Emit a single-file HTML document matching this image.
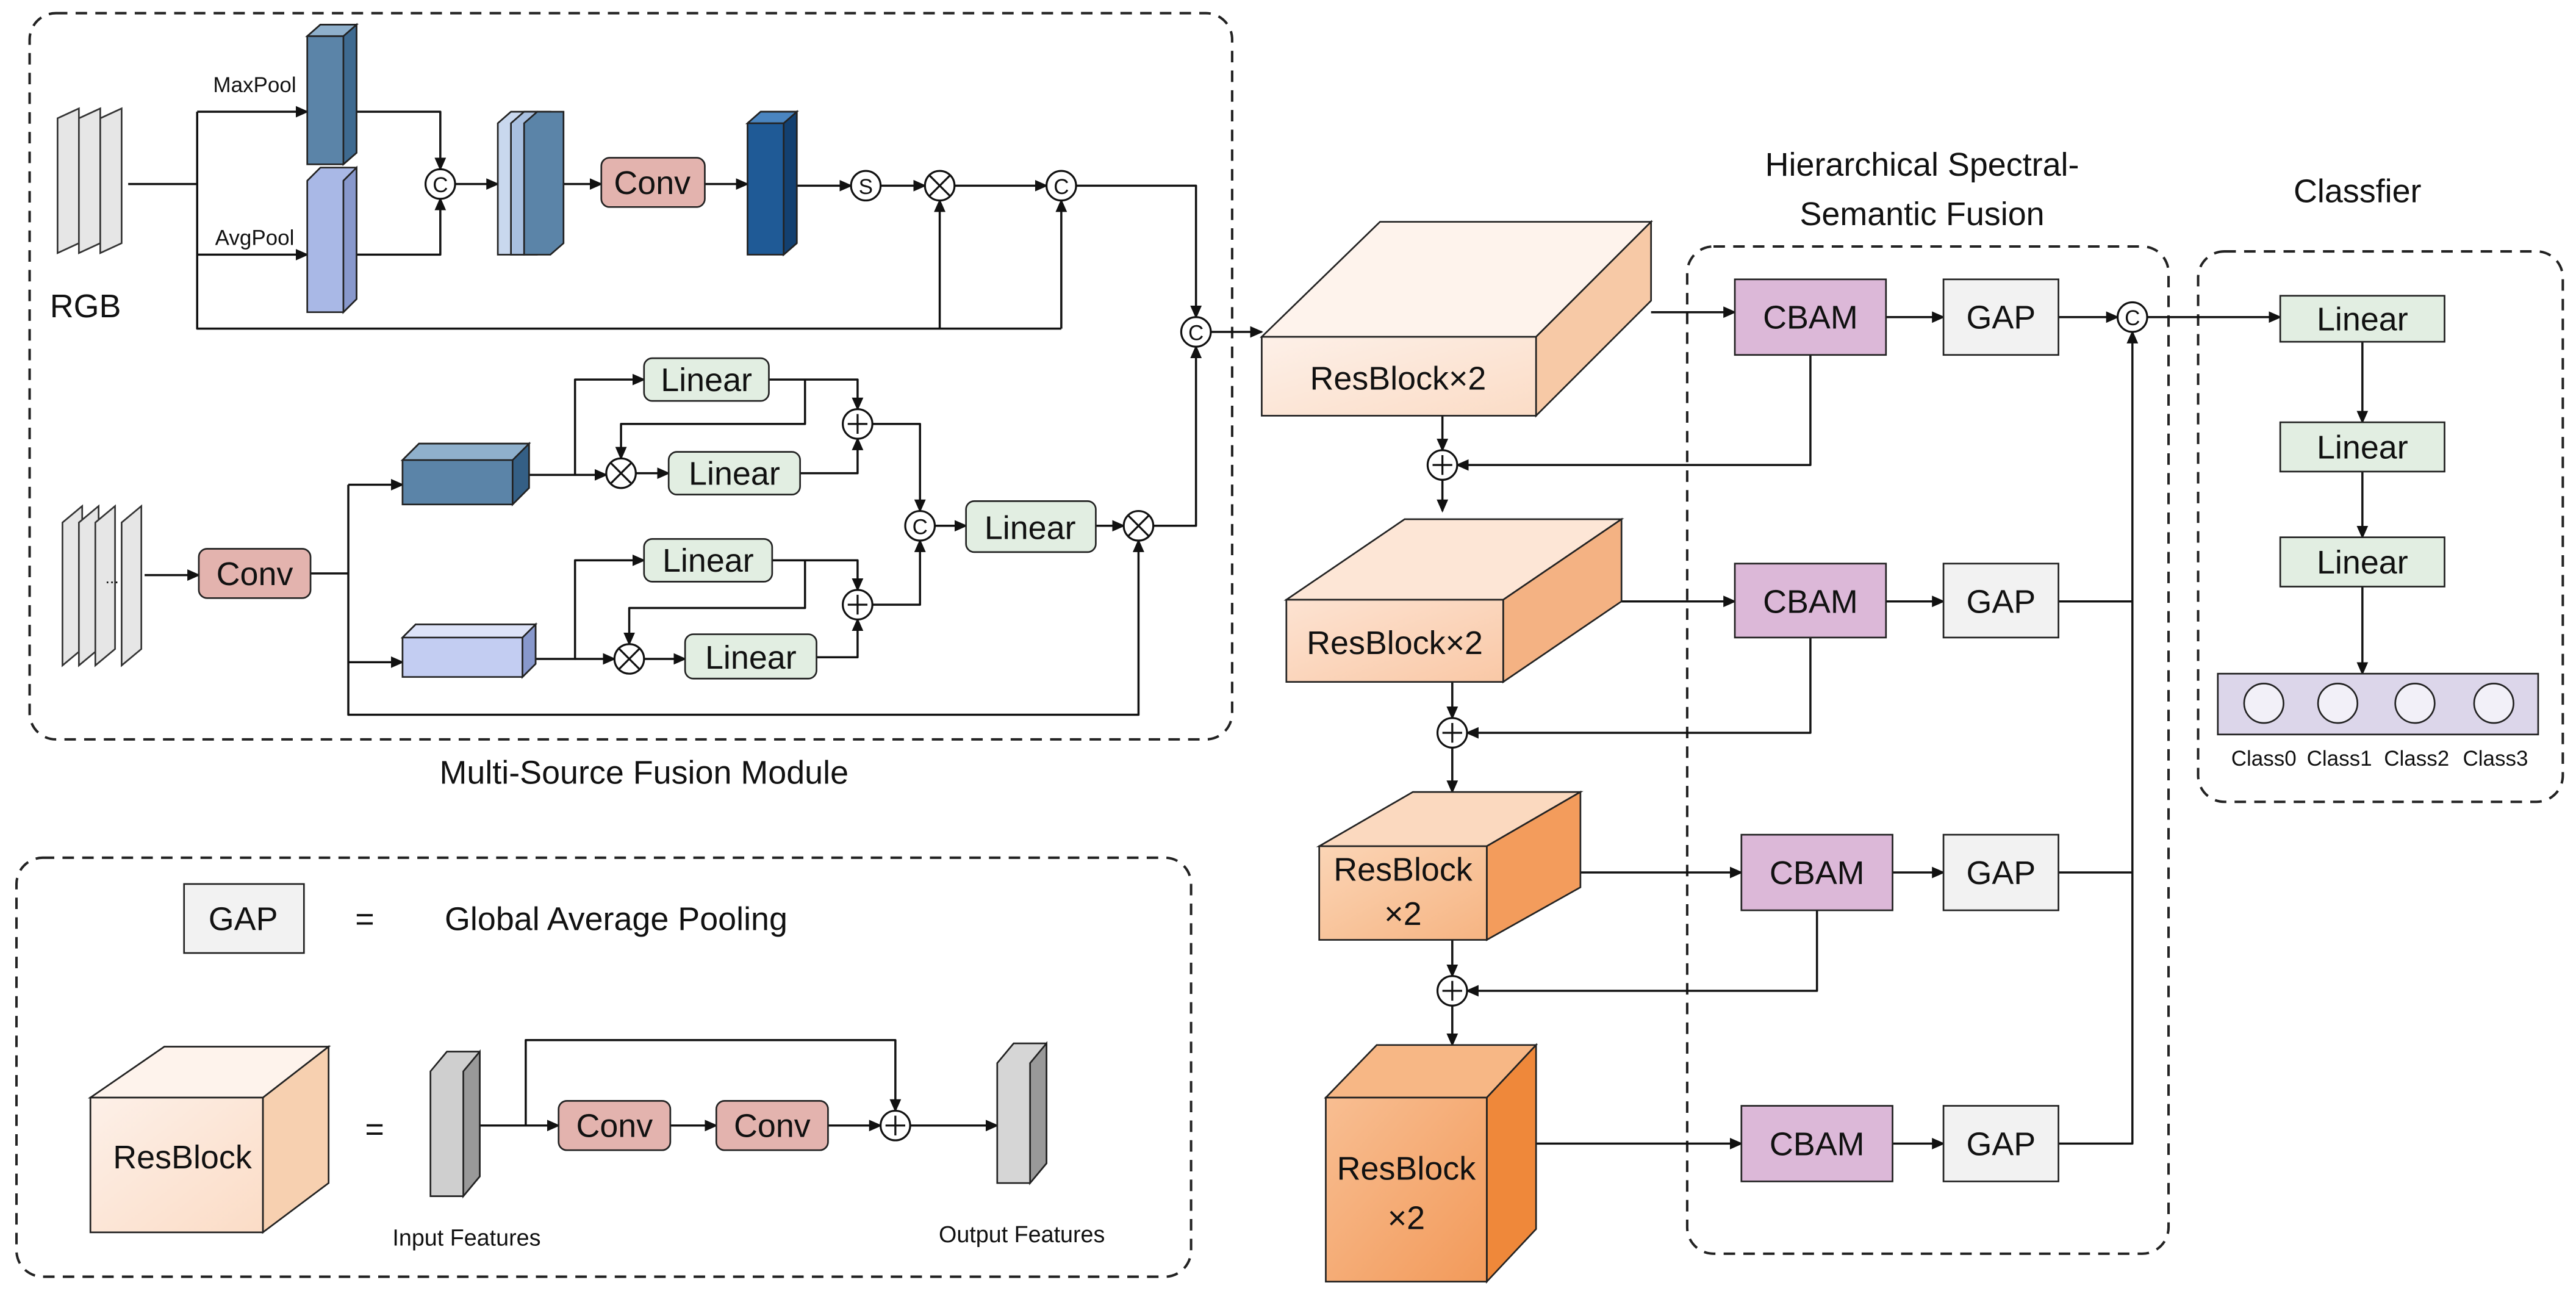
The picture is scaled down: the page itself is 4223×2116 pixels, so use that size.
<!DOCTYPE html>
<html><head><meta charset="utf-8"><style>html,body{margin:0;padding:0;background:#fff}svg{display:block}text{font-family:"Liberation Sans",sans-serif;fill:#111}</style></head>
<body>
<svg width="4223" height="2116" viewBox="0 0 1568 785.7" xmlns="http://www.w3.org/2000/svg">
<defs>
<marker id="a" markerWidth="8" markerHeight="8" refX="7" refY="4" orient="auto" markerUnits="userSpaceOnUse"><path d="M0,0.5 L8,4 L0,7.5z" fill="#111"/></marker>
<linearGradient id="g1" x1="0" y1="0" x2="1" y2="1"><stop offset="0" stop-color="#fdf0e8"/><stop offset="1" stop-color="#fbdcc6"/></linearGradient>
<linearGradient id="g2" x1="0" y1="0" x2="1" y2="1"><stop offset="0" stop-color="#fde3d2"/><stop offset="1" stop-color="#f9c8a6"/></linearGradient>
<linearGradient id="g3" x1="0" y1="0" x2="1" y2="1"><stop offset="0" stop-color="#fbd5b6"/><stop offset="1" stop-color="#f6b482"/></linearGradient>
<linearGradient id="g4" x1="0" y1="0" x2="1" y2="1"><stop offset="0" stop-color="#f8be92"/><stop offset="1" stop-color="#f29a5a"/></linearGradient>
</defs>
<g fill="none" stroke="#222" stroke-width="1.5" stroke-dasharray="7,5">
<rect x="18" y="8" width="732" height="442" rx="16"/>
<rect x="10" y="522" width="715" height="255" rx="16"/>
<rect x="1027" y="150" width="293" height="613" rx="16"/>
<rect x="1338" y="153" width="222" height="335" rx="16"/>
</g>
<g font-size="20" text-anchor="middle">
<text x="392" y="477">Multi-Source Fusion Module</text>
<text x="1170" y="107">Hierarchical Spectral-</text>
<text x="1170" y="137">Semantic Fusion</text>
<text x="1435" y="123">Classfier</text>
<text x="52" y="193">RGB</text>
</g>
<g stroke="#333" stroke-width="1" fill="#e6e6e6">
<polygon points="35,72 48,66 48,148 35,154"/>
<polygon points="48,72 61,66 61,148 48,154"/>
<polygon points="61,72 74,66 74,148 61,154"/>
<polygon points="38,318 50,308 50,395 38,405"/>
<polygon points="48,318 60,308 60,395 48,405"/>
<polygon points="58,318 70,308 70,395 58,405"/>
<polygon points="74,318 86,308 86,395 74,405"/>
</g>
<text x="64" y="355" font-size="10">...</text>
<g fill="none" stroke="#111" stroke-width="1.3" stroke-linejoin="round">
<path d="M78,112 H120 M120,68 V200 H646"/>
<path d="M120,68 H187" marker-end="url(#a)"/>
<path d="M120,155 H187" marker-end="url(#a)"/>
<path d="M217,68 H268 V103" marker-end="url(#a)"/>
<path d="M217,155 H268 V121" marker-end="url(#a)"/>
<path d="M277,112 H303" marker-end="url(#a)"/>
<path d="M343,112 H366" marker-end="url(#a)"/>
<path d="M429,112 H455" marker-end="url(#a)"/>
<path d="M485,113 H518" marker-end="url(#a)"/>
<path d="M536,113 H563" marker-end="url(#a)"/>
<path d="M581,113 H637" marker-end="url(#a)"/>
<path d="M572,200 V122" marker-end="url(#a)"/>
<path d="M646,200 V122" marker-end="url(#a)"/>
<path d="M655,113 H728 V193" marker-end="url(#a)"/>
<path d="M737,202 H768" marker-end="url(#a)"/>
<path d="M88,350 H121" marker-end="url(#a)"/>
<path d="M189,349 H212 M212,295 V435 H693 V329" marker-end="url(#a)"/>
<path d="M212,295 H245" marker-end="url(#a)"/>
<path d="M212,403 H245" marker-end="url(#a)"/>
<path d="M322,289 H350 V231 H392" marker-end="url(#a)"/>
<path d="M350,289 H369" marker-end="url(#a)"/>
<path d="M387,288 H407" marker-end="url(#a)"/>
<path d="M468,231 H522 V249" marker-end="url(#a)"/>
<path d="M490,231 V258 H378 V279" marker-end="url(#a)"/>
<path d="M487,288 H522 V267" marker-end="url(#a)"/>
<path d="M326,401 H350 V341 H392" marker-end="url(#a)"/>
<path d="M350,401 H374" marker-end="url(#a)"/>
<path d="M392,401 H417" marker-end="url(#a)"/>
<path d="M470,341 H522 V359" marker-end="url(#a)"/>
<path d="M490,341 V370 H383 V392" marker-end="url(#a)"/>
<path d="M497,400 H522 V377" marker-end="url(#a)"/>
<path d="M531,258 H560 V311" marker-end="url(#a)"/>
<path d="M531,368 H560 V329" marker-end="url(#a)"/>
<path d="M569,320 H588" marker-end="url(#a)"/>
<path d="M667,320 H684" marker-end="url(#a)"/>
<path d="M702,320 H728 V211" marker-end="url(#a)"/>
<path d="M1005,190 H1056" marker-end="url(#a)"/>
<path d="M1148,193 H1183" marker-end="url(#a)"/>
<path d="M1253,193 H1289" marker-end="url(#a)"/>
<path d="M1307,193 H1388" marker-end="url(#a)"/>
<path d="M1102,216 V283 H887" marker-end="url(#a)"/>
<path d="M878,253 V274" marker-end="url(#a)"/>
<path d="M878,292 V311" marker-end="url(#a)"/>
<path d="M987,366 H1056" marker-end="url(#a)"/>
<path d="M1148,366 H1183" marker-end="url(#a)"/>
<path d="M1253,366 H1298"/>
<path d="M1102,388 V446 H893" marker-end="url(#a)"/>
<path d="M884,415 V437" marker-end="url(#a)"/>
<path d="M884,455 V482" marker-end="url(#a)"/>
<path d="M962,531 H1060" marker-end="url(#a)"/>
<path d="M1152,531 H1183" marker-end="url(#a)"/>
<path d="M1253,531 H1298"/>
<path d="M1106,554 V603 H893" marker-end="url(#a)"/>
<path d="M884,572 V594" marker-end="url(#a)"/>
<path d="M884,612 V636" marker-end="url(#a)"/>
<path d="M935,696 H1060" marker-end="url(#a)"/>
<path d="M1152,696 H1183" marker-end="url(#a)"/>
<path d="M1253,696 H1298 V202" marker-end="url(#a)"/>
<path d="M1438,208 V257" marker-end="url(#a)"/>
<path d="M1438,287 V327" marker-end="url(#a)"/>
<path d="M1438,357 V410" marker-end="url(#a)"/>
<path d="M292,685 H340" marker-end="url(#a)"/>
<path d="M408,685 H436" marker-end="url(#a)"/>
<path d="M504,685 H536" marker-end="url(#a)"/>
<path d="M554,685 H607" marker-end="url(#a)"/>
<path d="M320,685 V633 H545 V676" marker-end="url(#a)"/>
</g>
<g stroke="#222" stroke-width="1">
<polygon points="187,22 195,15 217,15 217,93 209,100 187,100" fill="#5b84a8"/><polygon points="209,22 217,15 217,93 209,100" fill="#3e6a90"/><polygon points="187,22 195,15 217,15 209,22" fill="#8fb0cc"/>
<polygon points="187,110 195,102 217,102 217,182 209,190 187,190" fill="#a9b8e6"/><polygon points="209,110 217,102 217,182 209,190" fill="#8898cc"/>
<polygon points="303,75 311,68 327,68 327,148 319,155 303,155" fill="#c9d8ee"/>
<polygon points="311,75 319,68 335,68 335,148 327,155 311,155" fill="#a9c0e0"/>
<polygon points="319,75 327,68 343,68 343,148 335,155 319,155" fill="#5b84a8"/>
<polygon points="455,75 463,68 485,68 485,148 477,155 455,155" fill="#1f5a96"/><polygon points="477,75 485,68 485,148 477,155" fill="#134070"/><polygon points="455,75 463,68 485,68 477,75" fill="#4a85c0"/>
<polygon points="245,280 255,270 322,270 322,297 312,307 245,307" fill="#5b84a8"/><polygon points="312,280 322,270 322,297 312,307" fill="#345f85"/><polygon points="245,280 255,270 322,270 312,280" fill="#8fb0cc"/>
<polygon points="245,388 253,380 326,380 326,404 318,412 245,412" fill="#c3cdf2"/><polygon points="318,388 326,380 326,404 318,412" fill="#8898cc"/><polygon points="245,388 253,380 326,380 318,388" fill="#dde3f8"/>
<polygon points="262,652 272,640 292,640 292,716 282,728 262,728" fill="#cfcfcf"/><polygon points="282,652 292,640 292,716 282,728" fill="#999"/>
<polygon points="607,647 617,635 637,635 637,708 627,720 607,720" fill="#d6d6d6"/><polygon points="627,647 637,635 637,708 627,720" fill="#999"/>
</g>
<g stroke="#222" stroke-width="1">
<polygon points="768,205 840,135 1005,135 935,205" fill="#fef3ec"/><polygon points="935,205 1005,135 1005,183 935,253" fill="#f7c9a6"/><rect x="768" y="205" width="167" height="48" fill="url(#g1)"/>
<polygon points="783,365 855,316 987,316 915,365" fill="#fde6d6"/><polygon points="915,365 987,316 987,366 915,415" fill="#f4b283"/><rect x="783" y="365" width="132" height="50" fill="url(#g2)"/>
<polygon points="803,515 860,482 962,482 905,515" fill="#fbd9bf"/><polygon points="905,515 962,482 962,540 905,572" fill="#f39c5c"/><rect x="803" y="515" width="102" height="57" fill="url(#g3)"/>
<polygon points="807,668 838,636 935,636 905,668" fill="#f7b785"/><polygon points="905,668 935,636 935,748 905,780" fill="#ef883a"/><rect x="807" y="668" width="98" height="112" fill="url(#g4)"/>
<polygon points="55,668 100,637 200,637 160,668" fill="#fef3ec"/><polygon points="160,668 200,637 200,720 160,750" fill="#f7d0b0"/><rect x="55" y="668" width="105" height="82" fill="url(#g1)"/>
</g>
<g font-size="20" text-anchor="middle">
<text x="851" y="237">ResBlock×2</text>
<text x="849" y="398">ResBlock×2</text>
<text x="854" y="536">ResBlock</text><text x="854" y="563">×2</text>
<text x="856" y="718">ResBlock</text><text x="856" y="748">×2</text>
<text x="111" y="711">ResBlock</text>
</g>
<g stroke="#222" stroke-width="1">
<rect x="366" y="96" width="63" height="30" rx="5" fill="#e3b3ae"/>
<rect x="121" y="334" width="68" height="30" rx="5" fill="#e3b3ae"/>
<rect x="340" y="670" width="68" height="30" rx="5" fill="#e3b3ae"/>
<rect x="436" y="670" width="68" height="30" rx="5" fill="#e3b3ae"/>
<rect x="392" y="218" width="76" height="26" rx="5" fill="#e2eee2"/>
<rect x="407" y="275" width="80" height="26" rx="5" fill="#e2eee2"/>
<rect x="392" y="328" width="78" height="26" rx="5" fill="#e2eee2"/>
<rect x="417" y="386" width="80" height="27" rx="5" fill="#e2eee2"/>
<rect x="588" y="305" width="79" height="31" rx="5" fill="#e2eee2"/>
<rect x="1388" y="180" width="100" height="28" fill="#e2eee2"/>
<rect x="1388" y="257" width="100" height="30" fill="#e2eee2"/>
<rect x="1388" y="327" width="100" height="30" fill="#e2eee2"/>
<rect x="1056" y="170" width="92" height="46" fill="#dcb8d8"/>
<rect x="1056" y="343" width="92" height="45" fill="#dcb8d8"/>
<rect x="1060" y="508" width="92" height="46" fill="#dcb8d8"/>
<rect x="1060" y="673" width="92" height="46" fill="#dcb8d8"/>
<rect x="1183" y="170" width="70" height="46" fill="#f2f2f2"/>
<rect x="1183" y="343" width="70" height="45" fill="#f2f2f2"/>
<rect x="1183" y="508" width="70" height="46" fill="#f2f2f2"/>
<rect x="1183" y="673" width="70" height="46" fill="#f2f2f2"/>
<rect x="112" y="538" width="73" height="42" fill="#f2f2f2"/>
<rect x="1350" y="410" width="195" height="37" fill="#dcd6ea"/>
<circle cx="1378" cy="428" r="12" fill="#f2f0f8"/><circle cx="1423" cy="428" r="12" fill="#f2f0f8"/><circle cx="1470" cy="428" r="12" fill="#f2f0f8"/><circle cx="1518" cy="428" r="12" fill="#f2f0f8"/>
</g>
<g font-size="20" text-anchor="middle">
<text x="397" y="118">Conv</text><text x="155" y="356">Conv</text><text x="374" y="692">Conv</text><text x="470" y="692">Conv</text>
<text x="430" y="238">Linear</text><text x="447" y="295">Linear</text><text x="431" y="348">Linear</text><text x="457" y="407">Linear</text><text x="627" y="328">Linear</text>
<text x="1438" y="201">Linear</text><text x="1438" y="279">Linear</text><text x="1438" y="349">Linear</text>
<text x="1102" y="200">CBAM</text><text x="1102" y="373">CBAM</text><text x="1106" y="538">CBAM</text><text x="1106" y="703">CBAM</text>
<text x="1218" y="200">GAP</text><text x="1218" y="373">GAP</text><text x="1218" y="538">GAP</text><text x="1218" y="703">GAP</text>
<text x="148" y="566">GAP</text>
<text x="222" y="566">=</text><text x="228" y="694">=</text>
<text x="375" y="566">Global Average Pooling</text>
</g>
<g font-size="13" text-anchor="middle">
<text x="155" y="56">MaxPool</text><text x="155" y="149">AvgPool</text>
<text x="1378" y="466">Class0</text><text x="1424" y="466">Class1</text><text x="1471" y="466">Class2</text><text x="1519" y="466">Class3</text>
</g>
<g font-size="14" text-anchor="middle"><text x="284" y="758">Input Features</text><text x="622" y="756">Output Features</text></g>
<g stroke="#111" stroke-width="1.2" fill="#fff">
<circle cx="268" cy="112" r="9"/><circle cx="527" cy="113" r="9"/><circle cx="572" cy="113" r="9"/><circle cx="646" cy="113" r="9"/><circle cx="728" cy="202" r="9"/>
<circle cx="378" cy="288" r="9"/><circle cx="522" cy="258" r="9"/><circle cx="383" cy="401" r="9"/><circle cx="522" cy="368" r="9"/><circle cx="560" cy="320" r="9"/><circle cx="693" cy="320" r="9"/>
<circle cx="1298" cy="193" r="9"/><circle cx="878" cy="283" r="9"/><circle cx="884" cy="446" r="9"/><circle cx="884" cy="603" r="9"/><circle cx="545" cy="685" r="9"/>
</g>
<g font-size="13" text-anchor="middle">
<text x="268" y="117">C</text><text x="527" y="118">S</text><text x="646" y="118">C</text><text x="728" y="207">C</text><text x="560" y="325">C</text><text x="1298" y="198">C</text>
</g>
<g stroke="#111" stroke-width="1.2">
<path d="M566,107 L578,119 M578,107 L566,119"/><path d="M372,282 L384,294 M384,282 L372,294"/><path d="M377,395 L389,407 M389,395 L377,407"/><path d="M687,314 L699,326 M699,314 L687,326"/>
<path d="M516,258 H528 M522,252 V264"/><path d="M516,368 H528 M522,362 V374"/><path d="M872,283 H884 M878,277 V289"/><path d="M878,446 H890 M884,440 V452"/><path d="M878,603 H890 M884,597 V609"/><path d="M539,685 H551 M545,679 V691"/>
</g>
</svg>
</body></html>
